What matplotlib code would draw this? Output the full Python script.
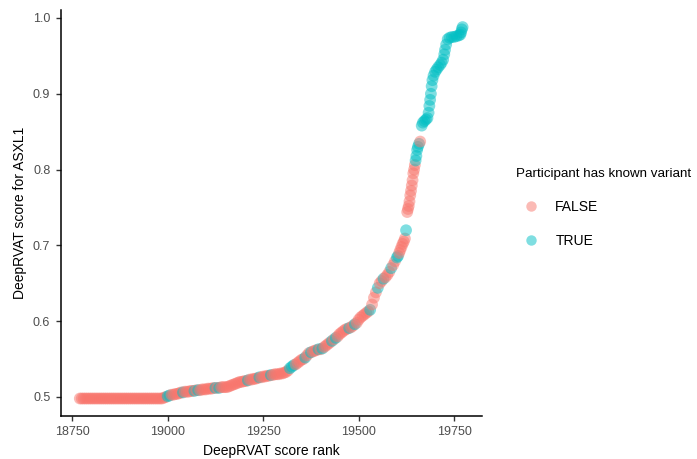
import numpy as np
import matplotlib
matplotlib.use("Agg")
import matplotlib.pyplot as plt
from matplotlib.lines import Line2D
from matplotlib.colors import to_rgba

# --- data ----------------------------------------------------------------
# flat start: every 5th rank from 18770 to 18985, all at the same score
flat_ranks = list(range(18770, 18990, 5))
flat_scores = [0.498] * len(flat_ranks)

# slow rise: every 5th rank from 18990 to 19600
rise_ranks = list(range(18990, 19605, 5))
rise_scores = [
    0.499, 0.500, 0.501, 0.502, 0.503, 0.503, 0.504, 0.504, 0.505, 0.506,
    0.506, 0.507, 0.507, 0.507, 0.508, 0.508, 0.508, 0.509, 0.509, 0.509,
    0.510, 0.510, 0.510, 0.511, 0.511, 0.511, 0.512, 0.512, 0.512, 0.512,
    0.513, 0.513, 0.513, 0.513, 0.514, 0.515, 0.516, 0.517, 0.518, 0.519,
    0.520, 0.520, 0.521, 0.521, 0.522, 0.523, 0.523, 0.524, 0.524, 0.525,
    0.526, 0.526, 0.527, 0.527, 0.528, 0.528, 0.529, 0.529, 0.530, 0.530,
    0.530, 0.531, 0.531, 0.532, 0.533, 0.535, 0.538, 0.540, 0.542, 0.543,
    0.545, 0.547, 0.549, 0.550, 0.552, 0.555, 0.558, 0.559, 0.560, 0.561,
    0.562, 0.563, 0.563, 0.564, 0.566, 0.568, 0.570, 0.572, 0.574, 0.576,
    0.578, 0.580, 0.583, 0.585, 0.587, 0.589, 0.590, 0.591, 0.592, 0.594,
    0.596, 0.598, 0.602, 0.605, 0.607, 0.609, 0.611, 0.613, 0.615, 0.622,
    0.631, 0.638, 0.644, 0.650, 0.653, 0.656, 0.658, 0.661, 0.665, 0.670,
    0.674, 0.679, 0.684,
]
rise_known = [19000, 19005, 19040, 19070, 19080, 19125, 19135, 19210,
              19240, 19270, 19320, 19325, 19330, 19360, 19375, 19395,
              19405, 19430, 19440, 19475, 19490, 19530, 19550, 19565,
              19585, 19600]

# steep top
steep_ranks = [19603, 19606, 19609, 19612, 19615, 19618, 19621, 19624,
               19627, 19629, 19631, 19633, 19635, 19637, 19639, 19641,
               19643, 19645, 19647, 19649, 19651, 19653, 19655, 19658,
               19661, 19665, 19668, 19672, 19676, 19680, 19683, 19685,
               19687, 19689, 19691, 19693, 19696, 19700, 19704, 19708,
               19713, 19717, 19721, 19724, 19726, 19729, 19733, 19738,
               19744, 19750, 19756, 19762, 19766, 19768, 19770, 19772]
steep_scores = [0.686, 0.690, 0.694, 0.698, 0.702, 0.705, 0.709, 0.720,
                0.744, 0.748, 0.752, 0.758, 0.766, 0.772, 0.779, 0.786,
                0.795, 0.800, 0.806, 0.812, 0.818, 0.826, 0.830, 0.834,
                0.837, 0.858, 0.862, 0.864, 0.866, 0.868, 0.875, 0.884,
                0.892, 0.900, 0.910, 0.918, 0.924, 0.929, 0.932, 0.935,
                0.938, 0.941, 0.945, 0.952, 0.958, 0.965, 0.972, 0.974,
                0.975, 0.975, 0.976, 0.977, 0.978, 0.981, 0.985, 0.988]
steep_false = [19606, 19609, 19612, 19615, 19618, 19621, 19627, 19629,
               19631, 19633, 19635, 19637, 19639, 19641, 19643, 19645,
               19647, 19661]

legend_title = "Participant has known variant"
legend_labels = ["FALSE", "TRUE"]

# --- assemble ------------------------------------------------------------
ranks = np.array(flat_ranks + rise_ranks + steep_ranks)
scores = np.array(flat_scores + rise_scores + steep_scores)
known = np.array([False] * len(flat_ranks)
                 + [r in rise_known for r in rise_ranks]
                 + [r not in steep_false for r in steep_ranks])

col_false = "#F8766D"
col_true = "#00BFC4"
alpha = 0.5
colors = [to_rgba(col_true if k else col_false, alpha) for k in known]

plt.rcParams['font.family'] = ['Liberation Sans', 'DejaVu Sans']

fig = plt.figure(figsize=(6.97, 4.59), dpi=100)
ax = fig.add_axes([0.0871, 0.0943, 0.604, 0.884])

ax.scatter(ranks, scores, s=72, c=colors, linewidths=0)

ax.set_xlim(18720, 19822)
ax.set_ylim(0.4753, 1.0106)
ax.set_xticks([18750, 19000, 19250, 19500, 19750])
ax.set_yticks([0.5, 0.6, 0.7, 0.8, 0.9, 1.0])
ax.set_yticklabels(["0.5", "0.6", "0.7", "0.8", "0.9", "1.0"])

for side in ['top', 'right']:
    ax.spines[side].set_visible(False)
for side in ['left', 'bottom']:
    ax.spines[side].set_color('black')
    ax.spines[side].set_linewidth(1.1)
ax.tick_params(axis='both', colors='#333333', labelcolor='#4D4D4D',
               labelsize=9, length=3.5, width=1.0, pad=4)

ax.set_xlabel("DeepRVAT score rank", fontsize=10, labelpad=4)
ax.set_ylabel("DeepRVAT score for ASXL1", fontsize=10, labelpad=4)

handles = [Line2D([], [], ls='', marker='o', ms=7.5, mew=0,
                  color=to_rgba(c, alpha)) for c in (col_false, col_true)]
fig.legend(handles, legend_labels, title=legend_title,
           loc='upper left', bbox_to_anchor=(0.730, 0.65),
           frameon=False, fontsize=10, title_fontsize=9.6,
           alignment='left', handletextpad=0.7, labelspacing=1.45,
           borderpad=0, handlelength=2.15)

fig.savefig("out.png", dpi=100)
